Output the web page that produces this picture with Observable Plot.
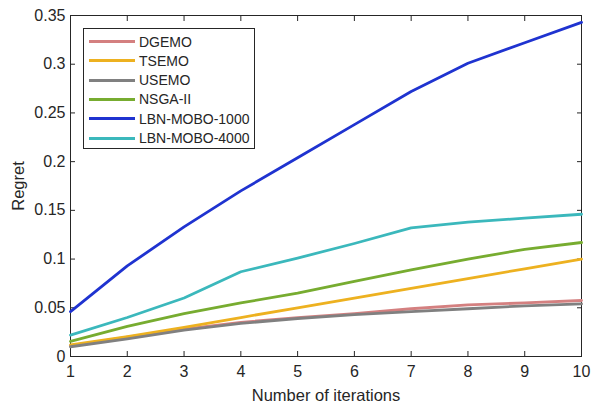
<!DOCTYPE html>
<html><head><meta charset="utf-8">
<script src="https://cdn.jsdelivr.net/npm/d3@7"></script>
<script src="https://cdn.jsdelivr.net/npm/@observablehq/plot@0.6"></script>
<style>
body{margin:0;background:#fff;font-family:"Liberation Sans",Arial,sans-serif;}
#wrap{position:relative;width:592px;height:410px;}
#wrap svg g[aria-label="x-axis tick label"] text, #wrap svg g[aria-label="y-axis tick label"] text{font-size:16px;}
#wrap svg g[aria-label="x-axis label"] text, #wrap svg g[aria-label="y-axis label"] text{font-size:16.5px;}
#legend{position:absolute;left:83px;top:28px;width:172px;height:121px;border:1px solid #262626;background:#fff;box-sizing:border-box;}
.row{position:absolute;left:0;height:19px;display:flex;align-items:center;font-size:14px;color:#262626;white-space:nowrap;}
.sw{display:inline-block;width:46px;height:3px;margin-left:5px;margin-right:4px;}
</style>
</head><body>
<div id="wrap"></div>
<script>
const iterations = [1,2,3,4,5,6,7,8,9,10];
const seriesNames = ["DGEMO","TSEMO","USEMO","NSGA-II","LBN-MOBO-1000","LBN-MOBO-4000"];
const seriesColors = ["#d48080","#edb120","#808080","#77ac30","#1f33d0","#3bb8bc"];
const dgemo   = [0.011,0.020,0.028,0.035,0.040,0.044,0.049,0.053,0.055,0.0575];
const tsemo   = [0.012,0.0205,0.030,0.040,0.050,0.060,0.070,0.080,0.090,0.100];
const usemo   = [0.010,0.018,0.027,0.034,0.039,0.043,0.046,0.049,0.052,0.054];
const nsga2   = [0.0155,0.031,0.044,0.055,0.065,0.077,0.089,0.100,0.110,0.117];
const lbn1000 = [0.046,0.093,0.133,0.170,0.204,0.238,0.272,0.301,0.322,0.343];
const lbn4000 = [0.022,0.040,0.060,0.087,0.101,0.116,0.132,0.138,0.142,0.146];
const yTicks = [0,0.05,0.1,0.15,0.2,0.25,0.3,0.35];
const yTickLabels = ["0","0.05","0.1","0.15","0.2","0.25","0.3","0.35"];

const allSeries = [dgemo,tsemo,usemo,nsga2,lbn1000,lbn4000];
const data = [];
allSeries.forEach((vals,si)=>vals.forEach((v,i)=>data.push({x:iterations[i],y:v,s:seriesNames[si]})));

const ink = "#262626";
const chart = Plot.plot({
  width:592, height:410,
  marginLeft:70, marginRight:11, marginTop:15, marginBottom:54,
  style:{fontFamily:"'Liberation Sans', Arial, sans-serif", fontSize:"16px", color:ink, background:"#fff"},
  x:{domain:[1,10]},
  y:{domain:[0,0.35]},
  color:{domain:seriesNames, range:seriesColors},
  marks:[
    Plot.frame({stroke:ink, strokeWidth:1}),
    Plot.axisX({anchor:"bottom", ticks:iterations, tickSize:-5, tickPadding:14, stroke:ink, fill:ink,
      label:"Number of iterations", labelAnchor:"center", labelArrow:"none", labelOffset:44}),
    Plot.axisX({anchor:"top", ticks:iterations, tickSize:-5, tickFormat:()=>"", stroke:ink, label:null}),
    Plot.axisY({anchor:"left", ticks:yTicks, tickFormat:(d)=>yTickLabels[yTicks.indexOf(d)], tickSize:-5, tickPadding:10, stroke:ink, fill:ink,
      label:"Regret", labelAnchor:"center", labelArrow:"none", labelOffset:58}),
    Plot.axisY({anchor:"right", ticks:yTicks, tickSize:-5, tickFormat:()=>"", stroke:ink, label:null}),
    Plot.line(data,{x:"x",y:"y",z:"s",stroke:"s",strokeWidth:2.8,strokeLinejoin:"round"})
  ]
});
const wrap = document.getElementById("wrap");
wrap.appendChild(chart);
const leg = document.createElement("div");
leg.id="legend";
seriesNames.forEach((n,i)=>{
  const r=document.createElement("div");
  r.className="row";
  r.style.top=(3+i*19.3)+"px";
  r.innerHTML=`<span class="sw" style="background:${seriesColors[i]}"></span><span>${n}</span>`;
  leg.appendChild(r);
});
wrap.appendChild(leg);
</script>
</body></html>
